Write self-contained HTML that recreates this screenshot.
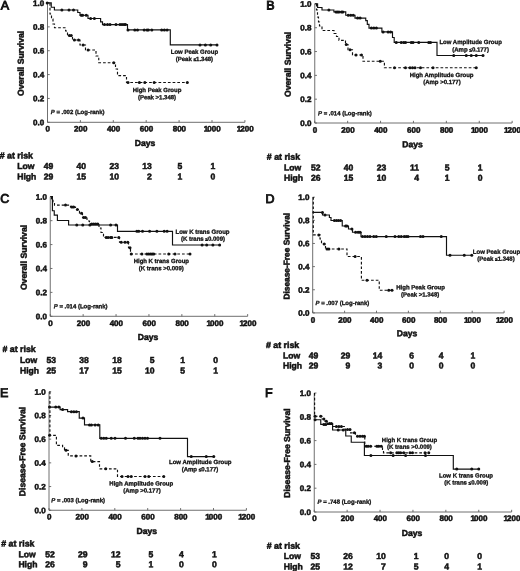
<!DOCTYPE html>
<html lang="en"><head><meta charset="utf-8"><title>Kaplan-Meier survival curves</title>
<style>html,body{margin:0;padding:0;background:#fff}svg{display:block}text{font-family:"Liberation Sans", sans-serif;font-weight:bold;fill:#111}text{stroke:#111;stroke-width:.5;paint-order:stroke}.t8{font-size:8.05px}.t85{font-size:8.6px}.t88{font-size:8.8px}.t6{font-size:6px;stroke-width:.3}.t12{font-size:12.5px;font-weight:normal;stroke-width:.9}.ax{stroke:#606060;stroke-width:.9;fill:none}.so{stroke:#111;stroke-width:1.15;fill:none;stroke-linejoin:miter}.da{stroke:#111;stroke-width:1.15;fill:none;stroke-dasharray:2.7 2}circle{fill:#111}</style></head><body>
<svg width="520" height="571" viewBox="0 0 520 571">
<rect width="520" height="571" fill="#fff"/>
<g>
<text class="t12" transform="rotate(0.03 0.8 9.4)" x="0.8" y="9.4">A</text>
<path class="ax" d="M47.5,3 V122.3 H244.9"/>
<path class="ax" d="M47.5,3 h2.2 M47.5,26.86 h2.2 M47.5,50.72 h2.2 M47.5,74.58 h2.2 M47.5,98.44 h2.2 M47.5,122.3 h2.2 M47.5,122.3 v-2.2 M80.4,122.3 v-2.2 M113.3,122.3 v-2.2 M146.2,122.3 v-2.2 M179.1,122.3 v-2.2 M212,122.3 v-2.2 M244.9,122.3 v-2.2"/>
<text class="t8" text-anchor="end" transform="rotate(0.03 44.3 5.9)" x="44.3" y="5.9">1.0</text>
<text class="t8" text-anchor="end" transform="rotate(0.03 44.3 29.76)" x="44.3" y="29.76">0.8</text>
<text class="t8" text-anchor="end" transform="rotate(0.03 44.3 53.62)" x="44.3" y="53.62">0.6</text>
<text class="t8" text-anchor="end" transform="rotate(0.03 44.3 77.48)" x="44.3" y="77.48">0.4</text>
<text class="t8" text-anchor="end" transform="rotate(0.03 44.3 101.34)" x="44.3" y="101.34">0.2</text>
<text class="t8" text-anchor="end" transform="rotate(0.03 44.3 125.2)" x="44.3" y="125.2">0.0</text>
<text class="t8" text-anchor="middle" transform="rotate(0.03 47.8 131.6)" x="47.8" y="131.6">0</text>
<text class="t8" text-anchor="middle" transform="rotate(0.03 80.7 131.6)" x="80.7" y="131.6">200</text>
<text class="t8" text-anchor="middle" transform="rotate(0.03 113.6 131.6)" x="113.6" y="131.6">400</text>
<text class="t8" text-anchor="middle" transform="rotate(0.03 146.5 131.6)" x="146.5" y="131.6">600</text>
<text class="t8" text-anchor="middle" transform="rotate(0.03 179.4 131.6)" x="179.4" y="131.6">800</text>
<text class="t8" text-anchor="middle" transform="rotate(0.03 212.3 131.6)" x="212.3" y="131.6"><tspan letter-spacing="-0.9">1</tspan>000</text>
<text class="t8" text-anchor="middle" transform="rotate(0.03 245.2 131.6)" x="245.2" y="131.6"><tspan letter-spacing="-0.9">1</tspan>200</text>
<text class="t88" style="font-size:8.65px" text-anchor="middle" transform="translate(23.8,63.4) rotate(-89.97)">Overall Survival</text>
<text class="t85" text-anchor="middle" transform="rotate(0.03 145 146)" x="145" y="146">Days</text>
<text class="t6" transform="rotate(0.03 50.75 114.1)" x="50.75" y="114.1"><tspan font-style="italic">P</tspan> = .002 (Log-rank)</text>
<g transform="translate(0,0)">
<path class="da" d="M50,3 V14 H51.5 V19 H53 V24 H54.5 V27.75 H65.6 V31 H67.5 V35.6 H72.5 V40 H80 V45 H85.5 V50 H96 V56 H98.75 V62.75 H115.5 V69 H117.5 V75.6 H126.5 V82.5 H187.3"/>
<path class="so" d="M47.5,2.9 H51.25 V7.25 H54.4 V10 H77.75 V12.5 H80 V15.25 H88 V18.5 H100.6 V21.9 H102.5 V24.6 H127.5 V29.9 H170.3 V44.9 H217"/>
<circle cx="47.2" cy="2.9" r="1.5"/>
<circle cx="61.9" cy="10" r="1.5"/>
<circle cx="69" cy="10" r="1.5"/>
<circle cx="73.5" cy="10" r="1.5"/>
<circle cx="81.25" cy="15.25" r="1.5"/>
<circle cx="82.6" cy="15.25" r="1.5"/>
<circle cx="86.25" cy="15.25" r="1.5"/>
<circle cx="90.6" cy="18.5" r="1.5"/>
<circle cx="94.4" cy="18.5" r="1.5"/>
<circle cx="104.5" cy="24.6" r="1.5"/>
<circle cx="107.5" cy="24.6" r="1.5"/>
<circle cx="110" cy="24.6" r="1.5"/>
<circle cx="116" cy="24.6" r="1.5"/>
<circle cx="120" cy="24.6" r="1.5"/>
<circle cx="122" cy="24.6" r="1.5"/>
<circle cx="124" cy="24.6" r="1.5"/>
<circle cx="125.5" cy="24.6" r="1.5"/>
<circle cx="128" cy="29.9" r="1.5"/>
<circle cx="134.8" cy="29.9" r="1.5"/>
<circle cx="137.5" cy="29.9" r="1.5"/>
<circle cx="144.2" cy="29.9" r="1.5"/>
<circle cx="147" cy="29.9" r="1.5"/>
<circle cx="148.3" cy="29.9" r="1.5"/>
<circle cx="151.8" cy="29.9" r="1.5"/>
<circle cx="161.7" cy="29.9" r="1.5"/>
<circle cx="164.4" cy="29.9" r="1.5"/>
<circle cx="167.1" cy="29.9" r="1.5"/>
<circle cx="200" cy="44.9" r="1.5"/>
<circle cx="205.4" cy="44.9" r="1.5"/>
<circle cx="210.7" cy="44.9" r="1.5"/>
<circle cx="217" cy="44.9" r="1.5"/>
<circle cx="69.4" cy="35.6" r="1.5"/>
<circle cx="71.25" cy="35.6" r="1.5"/>
<circle cx="74.4" cy="40" r="1.5"/>
<circle cx="78.5" cy="40" r="1.5"/>
<circle cx="83.1" cy="45" r="1.5"/>
<circle cx="88.1" cy="50" r="1.5"/>
<circle cx="113.75" cy="62.75" r="1.5"/>
<circle cx="128" cy="82.5" r="1.5"/>
<circle cx="139.4" cy="82.5" r="1.5"/>
<circle cx="144.8" cy="82.5" r="1.5"/>
<circle cx="154.2" cy="82.5" r="1.5"/>
<circle cx="187.3" cy="82.5" r="1.5"/>
</g>
<text class="t6" text-anchor="middle" transform="rotate(0.03 194.4 53.8)" x="194.4" y="53.8">Low Peak Group</text>
<text class="t6" text-anchor="middle" transform="rotate(0.03 194.4 60.9)" x="194.4" y="60.9">(Peak <tspan font-size="4.8">≤</tspan>1.348)</text>
<text class="t6" text-anchor="middle" transform="rotate(0.03 157 92)" x="157" y="92">High Peak Group</text>
<text class="t6" text-anchor="middle" transform="rotate(0.03 157 99.2)" x="157" y="99.2">(Peak >1.348)</text>
<text class="t88" transform="rotate(0.03 -0.3 158.6)" x="-0.3" y="158.6"># at risk</text>
<text class="t85" transform="rotate(0.03 17.2 169)" x="17.2" y="169">Low</text>
<text class="t85" transform="rotate(0.03 17.2 179.5)" x="17.2" y="179.5">High</text>
<text class="t85" text-anchor="end" transform="rotate(0.03 53.2 169)" x="53.2" y="169">49</text>
<text class="t85" text-anchor="end" transform="rotate(0.03 86.1 169)" x="86.1" y="169">40</text>
<text class="t85" text-anchor="end" transform="rotate(0.03 119 169)" x="119" y="169">23</text>
<text class="t85" text-anchor="end" transform="rotate(0.03 151.9 169)" x="151.9" y="169">13</text>
<text class="t85" text-anchor="end" transform="rotate(0.03 182.3 169)" x="182.3" y="169">5</text>
<text class="t85" text-anchor="end" transform="rotate(0.03 215.2 169)" x="215.2" y="169">1</text>
<text class="t85" text-anchor="end" transform="rotate(0.03 53.2 179.5)" x="53.2" y="179.5">29</text>
<text class="t85" text-anchor="end" transform="rotate(0.03 86.1 179.5)" x="86.1" y="179.5">15</text>
<text class="t85" text-anchor="end" transform="rotate(0.03 119 179.5)" x="119" y="179.5">10</text>
<text class="t85" text-anchor="end" transform="rotate(0.03 151.9 179.5)" x="151.9" y="179.5">2</text>
<text class="t85" text-anchor="end" transform="rotate(0.03 182.3 179.5)" x="182.3" y="179.5">1</text>
<text class="t85" text-anchor="end" transform="rotate(0.03 215.2 179.5)" x="215.2" y="179.5">0</text>
</g>
<g>
<text class="t12" transform="rotate(0.03 266.3 9.5)" x="266.3" y="9.5">B</text>
<path class="ax" d="M314.75,3.9 V123 H512.15"/>
<path class="ax" d="M314.75,3.9 h2.2 M314.75,27.72 h2.2 M314.75,51.54 h2.2 M314.75,75.36 h2.2 M314.75,99.18 h2.2 M314.75,123 h2.2 M314.75,123 v-2.2 M347.65,123 v-2.2 M380.55,123 v-2.2 M413.45,123 v-2.2 M446.35,123 v-2.2 M479.25,123 v-2.2 M512.15,123 v-2.2"/>
<text class="t8" text-anchor="end" transform="rotate(0.03 311.55 6.8)" x="311.55" y="6.8">1.0</text>
<text class="t8" text-anchor="end" transform="rotate(0.03 311.55 30.62)" x="311.55" y="30.62">0.8</text>
<text class="t8" text-anchor="end" transform="rotate(0.03 311.55 54.44)" x="311.55" y="54.44">0.6</text>
<text class="t8" text-anchor="end" transform="rotate(0.03 311.55 78.26)" x="311.55" y="78.26">0.4</text>
<text class="t8" text-anchor="end" transform="rotate(0.03 311.55 102.08)" x="311.55" y="102.08">0.2</text>
<text class="t8" text-anchor="end" transform="rotate(0.03 311.55 125.9)" x="311.55" y="125.9">0.0</text>
<text class="t8" text-anchor="middle" transform="rotate(0.03 315.05 132.8)" x="315.05" y="132.8">0</text>
<text class="t8" text-anchor="middle" transform="rotate(0.03 347.95 132.8)" x="347.95" y="132.8">200</text>
<text class="t8" text-anchor="middle" transform="rotate(0.03 380.85 132.8)" x="380.85" y="132.8">400</text>
<text class="t8" text-anchor="middle" transform="rotate(0.03 413.75 132.8)" x="413.75" y="132.8">600</text>
<text class="t8" text-anchor="middle" transform="rotate(0.03 446.65 132.8)" x="446.65" y="132.8">800</text>
<text class="t8" text-anchor="middle" transform="rotate(0.03 479.55 132.8)" x="479.55" y="132.8"><tspan letter-spacing="-0.9">1</tspan>000</text>
<text class="t8" text-anchor="middle" transform="rotate(0.03 512.45 132.8)" x="512.45" y="132.8"><tspan letter-spacing="-0.9">1</tspan>200</text>
<text class="t88" style="font-size:8.65px" text-anchor="middle" transform="translate(290.8,64.4) rotate(-89.97)">Overall Survival</text>
<text class="t85" text-anchor="middle" transform="rotate(0.03 412.5 147.2)" x="412.5" y="147.2">Days</text>
<text class="t6" transform="rotate(0.03 318 115.3)" x="318" y="115.3"><tspan font-style="italic">P</tspan> = .014 (Log-rank)</text>
<g transform="translate(0,0)">
<path class="da" d="M316.5,3.75 V10 H317.5 V17 H318.5 V22 H319.5 V26 H322 V30.5 H334 V33.5 H336.5 V36.5 H339 V40.3 H345.5 V44.5 H348 V49.75 H352.5 V55 H363 V61.25 H384.4 V67.75 H476.25"/>
<path class="so" d="M314.75,3.75 H317.6 V7.5 H322 V10 H333.9 V11.9 H345.75 V15.25 H355 V18.1 H365.75 V20.6 H367.3 V24.4 H369 V28.1 H381.9 V31.9 H392.5 V37.5 H394.2 V42.4 H437 V55.5 H483"/>
<circle cx="328.9" cy="10" r="1.5"/>
<circle cx="336" cy="11.9" r="1.5"/>
<circle cx="337.5" cy="11.9" r="1.5"/>
<circle cx="339" cy="11.9" r="1.5"/>
<circle cx="341.5" cy="11.9" r="1.5"/>
<circle cx="342.8" cy="11.9" r="1.5"/>
<circle cx="348.25" cy="15.25" r="1.5"/>
<circle cx="350.75" cy="15.25" r="1.5"/>
<circle cx="353.25" cy="15.25" r="1.5"/>
<circle cx="357.6" cy="18.1" r="1.5"/>
<circle cx="360.1" cy="18.1" r="1.5"/>
<circle cx="371.4" cy="28.1" r="1.5"/>
<circle cx="373.9" cy="28.1" r="1.5"/>
<circle cx="376.4" cy="28.1" r="1.5"/>
<circle cx="383.1" cy="31.9" r="1.5"/>
<circle cx="388.1" cy="31.9" r="1.5"/>
<circle cx="390.6" cy="31.9" r="1.5"/>
<circle cx="396.25" cy="42.4" r="1.5"/>
<circle cx="401.25" cy="42.4" r="1.5"/>
<circle cx="403.75" cy="42.4" r="1.5"/>
<circle cx="405.5" cy="42.4" r="1.5"/>
<circle cx="411.25" cy="42.4" r="1.5"/>
<circle cx="413" cy="42.4" r="1.5"/>
<circle cx="418.75" cy="42.4" r="1.5"/>
<circle cx="428.75" cy="42.4" r="1.5"/>
<circle cx="430.5" cy="42.4" r="1.5"/>
<circle cx="453.75" cy="55.5" r="1.5"/>
<circle cx="466.25" cy="55.5" r="1.5"/>
<circle cx="471.25" cy="55.5" r="1.5"/>
<circle cx="476.25" cy="55.5" r="1.5"/>
<circle cx="483" cy="55.5" r="1.5"/>
<circle cx="346.25" cy="44.5" r="1.5"/>
<circle cx="350" cy="49.75" r="1.5"/>
<circle cx="356" cy="55" r="1.5"/>
<circle cx="361.5" cy="55" r="1.5"/>
<circle cx="380.25" cy="61.25" r="1.5"/>
<circle cx="394.5" cy="67.75" r="1.5"/>
<circle cx="405.5" cy="67.75" r="1.5"/>
<circle cx="410" cy="67.75" r="1.5"/>
<circle cx="412.5" cy="67.75" r="1.5"/>
<circle cx="415" cy="67.75" r="1.5"/>
<circle cx="420.5" cy="67.75" r="1.5"/>
<circle cx="433" cy="67.75" r="1.5"/>
<circle cx="476.25" cy="67.75" r="1.5"/>
</g>
<text class="t6" text-anchor="middle" transform="rotate(0.03 470.6 44.1)" x="470.6" y="44.1">Low Amplitude Group</text>
<text class="t6" text-anchor="middle" transform="rotate(0.03 470.6 51.6)" x="470.6" y="51.6">(Amp <tspan font-size="4.8">≤</tspan>0.177)</text>
<text class="t6" text-anchor="middle" transform="rotate(0.03 441.6 77)" x="441.6" y="77">High Amplitude Group</text>
<text class="t6" text-anchor="middle" transform="rotate(0.03 441.9 84)" x="441.9" y="84">(Amp >0.177)</text>
<text class="t88" transform="rotate(0.03 266.8 159.7)" x="266.8" y="159.7"># at risk</text>
<text class="t85" transform="rotate(0.03 284 170.6)" x="284" y="170.6">Low</text>
<text class="t85" transform="rotate(0.03 284 180.7)" x="284" y="180.7">High</text>
<text class="t85" text-anchor="end" transform="rotate(0.03 320.45 170.6)" x="320.45" y="170.6">52</text>
<text class="t85" text-anchor="end" transform="rotate(0.03 353.35 170.6)" x="353.35" y="170.6">40</text>
<text class="t85" text-anchor="end" transform="rotate(0.03 386.25 170.6)" x="386.25" y="170.6">23</text>
<text class="t85" text-anchor="end" transform="rotate(0.03 419.15 170.6)" x="419.15" y="170.6">11</text>
<text class="t85" text-anchor="end" transform="rotate(0.03 449.55 170.6)" x="449.55" y="170.6">5</text>
<text class="t85" text-anchor="end" transform="rotate(0.03 482.45 170.6)" x="482.45" y="170.6">1</text>
<text class="t85" text-anchor="end" transform="rotate(0.03 320.45 180.7)" x="320.45" y="180.7">26</text>
<text class="t85" text-anchor="end" transform="rotate(0.03 353.35 180.7)" x="353.35" y="180.7">15</text>
<text class="t85" text-anchor="end" transform="rotate(0.03 386.25 180.7)" x="386.25" y="180.7">10</text>
<text class="t85" text-anchor="end" transform="rotate(0.03 419.15 180.7)" x="419.15" y="180.7">4</text>
<text class="t85" text-anchor="end" transform="rotate(0.03 449.55 180.7)" x="449.55" y="180.7">1</text>
<text class="t85" text-anchor="end" transform="rotate(0.03 482.45 180.7)" x="482.45" y="180.7">0</text>
</g>
<g>
<text class="t12" transform="rotate(0.03 0.3 202.8)" x="0.3" y="202.8">C</text>
<path class="ax" d="M50.25,196.75 V316.3 H247.65"/>
<path class="ax" d="M50.25,196.75 h2.2 M50.25,220.66 h2.2 M50.25,244.57 h2.2 M50.25,268.48 h2.2 M50.25,292.39 h2.2 M50.25,316.3 h2.2 M50.25,316.3 v-2.2 M83.15,316.3 v-2.2 M116.05,316.3 v-2.2 M148.95,316.3 v-2.2 M181.85,316.3 v-2.2 M214.75,316.3 v-2.2 M247.65,316.3 v-2.2"/>
<text class="t8" text-anchor="end" transform="rotate(0.03 47.05 199.65)" x="47.05" y="199.65">1.0</text>
<text class="t8" text-anchor="end" transform="rotate(0.03 47.05 223.56)" x="47.05" y="223.56">0.8</text>
<text class="t8" text-anchor="end" transform="rotate(0.03 47.05 247.47)" x="47.05" y="247.47">0.6</text>
<text class="t8" text-anchor="end" transform="rotate(0.03 47.05 271.38)" x="47.05" y="271.38">0.4</text>
<text class="t8" text-anchor="end" transform="rotate(0.03 47.05 295.29)" x="47.05" y="295.29">0.2</text>
<text class="t8" text-anchor="end" transform="rotate(0.03 47.05 319.2)" x="47.05" y="319.2">0.0</text>
<text class="t8" text-anchor="middle" transform="rotate(0.03 50.55 326)" x="50.55" y="326">0</text>
<text class="t8" text-anchor="middle" transform="rotate(0.03 83.45 326)" x="83.45" y="326">200</text>
<text class="t8" text-anchor="middle" transform="rotate(0.03 116.35 326)" x="116.35" y="326">400</text>
<text class="t8" text-anchor="middle" transform="rotate(0.03 149.25 326)" x="149.25" y="326">600</text>
<text class="t8" text-anchor="middle" transform="rotate(0.03 182.15 326)" x="182.15" y="326">800</text>
<text class="t8" text-anchor="middle" transform="rotate(0.03 215.05 326)" x="215.05" y="326"><tspan letter-spacing="-0.9">1</tspan>000</text>
<text class="t8" text-anchor="middle" transform="rotate(0.03 247.95 326)" x="247.95" y="326"><tspan letter-spacing="-0.9">1</tspan>200</text>
<text class="t88" style="font-size:8.65px" text-anchor="middle" transform="translate(26.7,257.5) rotate(-89.97)">Overall Survival</text>
<text class="t85" text-anchor="middle" transform="rotate(0.03 148 340.1)" x="148" y="340.1">Days</text>
<text class="t6" transform="rotate(0.03 53.75 308.3)" x="53.75" y="308.3"><tspan font-style="italic">P</tspan> = .014 (Log-rank)</text>
<g transform="translate(0,0)">
<path class="da" d="M51.5,196.5 V199 H53 V202 H54.5 V205.1 H70.5 V207 H75.5 V209.5 H79.5 V213.25 H82.5 V217.4 H87 V221 H89.5 V223.9 H99 V228 H101 V232.5 H103.5 V237.4 H119.5 V242.25 H128.5 V247.75 H130.5 V254 H190"/>
<path class="so" d="M50.25,196.5 H52.4 V210.75 H54.25 V215.1 H57.4 V220.5 H68.6 V225 H117.5 V231.3 H172.5 V245 H219.6"/>
<circle cx="76.75" cy="225" r="1.5"/>
<circle cx="82.75" cy="225" r="1.5"/>
<circle cx="89.9" cy="225" r="1.5"/>
<circle cx="110.6" cy="225" r="1.5"/>
<circle cx="116" cy="225" r="1.5"/>
<circle cx="136.9" cy="231.3" r="1.5"/>
<circle cx="138.75" cy="231.3" r="1.5"/>
<circle cx="142.5" cy="231.3" r="1.5"/>
<circle cx="149.6" cy="231.3" r="1.5"/>
<circle cx="156.9" cy="231.3" r="1.5"/>
<circle cx="164.2" cy="231.3" r="1.5"/>
<circle cx="167.1" cy="231.3" r="1.5"/>
<circle cx="202.1" cy="245" r="1.5"/>
<circle cx="206.7" cy="245" r="1.5"/>
<circle cx="212.9" cy="245" r="1.5"/>
<circle cx="219.6" cy="245" r="1.5"/>
<circle cx="65.5" cy="205.1" r="1.5"/>
<circle cx="71.75" cy="207" r="1.5"/>
<circle cx="73.6" cy="207" r="1.5"/>
<circle cx="77.4" cy="209.5" r="1.5"/>
<circle cx="81.5" cy="213.25" r="1.5"/>
<circle cx="83.6" cy="217.4" r="1.5"/>
<circle cx="85.5" cy="217.4" r="1.5"/>
<circle cx="91.75" cy="223.9" r="1.5"/>
<circle cx="93.75" cy="223.9" r="1.5"/>
<circle cx="95.75" cy="223.9" r="1.5"/>
<circle cx="97.75" cy="223.9" r="1.5"/>
<circle cx="106.25" cy="237.4" r="1.5"/>
<circle cx="108.1" cy="237.4" r="1.5"/>
<circle cx="110.6" cy="237.4" r="1.5"/>
<circle cx="111.9" cy="237.4" r="1.5"/>
<circle cx="118.75" cy="237.4" r="1.5"/>
<circle cx="121.25" cy="242.25" r="1.5"/>
<circle cx="125" cy="242.25" r="1.5"/>
<circle cx="127.75" cy="242.25" r="1.5"/>
<circle cx="130" cy="247.75" r="1.5"/>
<circle cx="131.25" cy="254" r="1.5"/>
<circle cx="141.9" cy="254" r="1.5"/>
<circle cx="146.9" cy="254" r="1.5"/>
<circle cx="148.75" cy="254" r="1.5"/>
<circle cx="150.6" cy="254" r="1.5"/>
<circle cx="152.2" cy="254" r="1.5"/>
<circle cx="153.75" cy="254" r="1.5"/>
<circle cx="168.75" cy="254" r="1.5"/>
<circle cx="175" cy="254" r="1.5"/>
<circle cx="190" cy="254" r="1.5"/>
</g>
<text class="t6" text-anchor="middle" transform="rotate(0.03 202.5 233.7)" x="202.5" y="233.7">Low K trans Group</text>
<text class="t6" text-anchor="middle" transform="rotate(0.03 203 240.7)" x="203" y="240.7">(K trans <tspan font-size="4.8">≤</tspan>0.009)</text>
<text class="t6" text-anchor="middle" transform="rotate(0.03 161.3 262.9)" x="161.3" y="262.9">High K trans Group</text>
<text class="t6" text-anchor="middle" transform="rotate(0.03 161.3 270.2)" x="161.3" y="270.2">(K trans >0.009)</text>
<text class="t88" transform="rotate(0.03 2.5 352.1)" x="2.5" y="352.1"># at risk</text>
<text class="t85" transform="rotate(0.03 20 363)" x="20" y="363">Low</text>
<text class="t85" transform="rotate(0.03 20 373.5)" x="20" y="373.5">High</text>
<text class="t85" text-anchor="end" transform="rotate(0.03 55.95 363)" x="55.95" y="363">53</text>
<text class="t85" text-anchor="end" transform="rotate(0.03 88.85 363)" x="88.85" y="363">38</text>
<text class="t85" text-anchor="end" transform="rotate(0.03 121.75 363)" x="121.75" y="363">18</text>
<text class="t85" text-anchor="end" transform="rotate(0.03 154.65 363)" x="154.65" y="363">5</text>
<text class="t85" text-anchor="end" transform="rotate(0.03 185.05 363)" x="185.05" y="363">1</text>
<text class="t85" text-anchor="end" transform="rotate(0.03 217.95 363)" x="217.95" y="363">0</text>
<text class="t85" text-anchor="end" transform="rotate(0.03 55.95 373.5)" x="55.95" y="373.5">25</text>
<text class="t85" text-anchor="end" transform="rotate(0.03 88.85 373.5)" x="88.85" y="373.5">17</text>
<text class="t85" text-anchor="end" transform="rotate(0.03 121.75 373.5)" x="121.75" y="373.5">15</text>
<text class="t85" text-anchor="end" transform="rotate(0.03 154.65 373.5)" x="154.65" y="373.5">10</text>
<text class="t85" text-anchor="end" transform="rotate(0.03 185.05 373.5)" x="185.05" y="373.5">5</text>
<text class="t85" text-anchor="end" transform="rotate(0.03 217.95 373.5)" x="217.95" y="373.5">1</text>
</g>
<g>
<text class="t12" transform="rotate(0.03 265.5 203)" x="265.5" y="203">D</text>
<path class="ax" d="M312.7,197.2 V312.9 H504.1"/>
<path class="ax" d="M312.7,197.2 h2.2 M312.7,220.34 h2.2 M312.7,243.48 h2.2 M312.7,266.62 h2.2 M312.7,289.76 h2.2 M312.7,312.9 h2.2 M312.7,312.9 v-2.2 M344.6,312.9 v-2.2 M376.5,312.9 v-2.2 M408.4,312.9 v-2.2 M440.3,312.9 v-2.2 M472.2,312.9 v-2.2 M504.1,312.9 v-2.2"/>
<text class="t8" text-anchor="end" transform="rotate(0.03 309.5 200.1)" x="309.5" y="200.1">1.0</text>
<text class="t8" text-anchor="end" transform="rotate(0.03 309.5 223.24)" x="309.5" y="223.24">0.8</text>
<text class="t8" text-anchor="end" transform="rotate(0.03 309.5 246.38)" x="309.5" y="246.38">0.6</text>
<text class="t8" text-anchor="end" transform="rotate(0.03 309.5 269.52)" x="309.5" y="269.52">0.4</text>
<text class="t8" text-anchor="end" transform="rotate(0.03 309.5 292.66)" x="309.5" y="292.66">0.2</text>
<text class="t8" text-anchor="end" transform="rotate(0.03 309.5 315.8)" x="309.5" y="315.8">0.0</text>
<text class="t8" text-anchor="middle" transform="rotate(0.03 313 322.8)" x="313" y="322.8">0</text>
<text class="t8" text-anchor="middle" transform="rotate(0.03 344.9 322.8)" x="344.9" y="322.8">200</text>
<text class="t8" text-anchor="middle" transform="rotate(0.03 376.8 322.8)" x="376.8" y="322.8">400</text>
<text class="t8" text-anchor="middle" transform="rotate(0.03 408.7 322.8)" x="408.7" y="322.8">600</text>
<text class="t8" text-anchor="middle" transform="rotate(0.03 440.6 322.8)" x="440.6" y="322.8">800</text>
<text class="t8" text-anchor="middle" transform="rotate(0.03 472.5 322.8)" x="472.5" y="322.8"><tspan letter-spacing="-0.9">1</tspan>000</text>
<text class="t8" text-anchor="middle" transform="rotate(0.03 504.4 322.8)" x="504.4" y="322.8"><tspan letter-spacing="-0.9">1</tspan>200</text>
<text class="t88" style="font-size:8.35px" text-anchor="middle" transform="translate(289.4,256.2) rotate(-89.97)">Disease-Free Survival</text>
<text class="t85" text-anchor="middle" transform="rotate(0.03 407 336.2)" x="407" y="336.2">Days</text>
<text class="t6" transform="rotate(0.03 315.5 305)" x="315.5" y="305"><tspan font-style="italic">P</tspan> = .007 (Log-rank)</text>
<g transform="translate(0,0)">
<path class="da" d="M313.3,197 V234.9 H320 V239 H321.5 V244 H325.5 V249 H347 V256.5 H361.4 V280.25 H379.25 V290.25 H392.5"/>
<path class="so" d="M312.5,212.4 H322.5 V215 H329.4 V217.5 H331 V220.5 H342.25 V226 H348.5 V229 H352.5 V232.25 H361 V236.6 H446.5 V255.25 H471.75"/>
<circle cx="322.5" cy="212.4" r="1.5"/>
<circle cx="325" cy="215" r="1.5"/>
<circle cx="334.4" cy="220.5" r="1.5"/>
<circle cx="336.5" cy="220.5" r="1.5"/>
<circle cx="338.5" cy="220.5" r="1.5"/>
<circle cx="340.6" cy="220.5" r="1.5"/>
<circle cx="345.6" cy="226" r="1.5"/>
<circle cx="346.9" cy="226" r="1.5"/>
<circle cx="351.9" cy="229" r="1.5"/>
<circle cx="355.6" cy="232.25" r="1.5"/>
<circle cx="358.1" cy="232.25" r="1.5"/>
<circle cx="360" cy="232.25" r="1.5"/>
<circle cx="362.5" cy="236.6" r="1.5"/>
<circle cx="365" cy="236.6" r="1.5"/>
<circle cx="367.5" cy="236.6" r="1.5"/>
<circle cx="370" cy="236.6" r="1.5"/>
<circle cx="373.75" cy="236.6" r="1.5"/>
<circle cx="376.25" cy="236.6" r="1.5"/>
<circle cx="386.25" cy="236.6" r="1.5"/>
<circle cx="395" cy="236.6" r="1.5"/>
<circle cx="398.75" cy="236.6" r="1.5"/>
<circle cx="401.25" cy="236.6" r="1.5"/>
<circle cx="404.25" cy="236.6" r="1.5"/>
<circle cx="406.25" cy="236.6" r="1.5"/>
<circle cx="408" cy="236.6" r="1.5"/>
<circle cx="420.5" cy="236.6" r="1.5"/>
<circle cx="423" cy="236.6" r="1.5"/>
<circle cx="441.25" cy="236.6" r="1.5"/>
<circle cx="450" cy="255.25" r="1.5"/>
<circle cx="464.25" cy="255.25" r="1.5"/>
<circle cx="471.75" cy="255.25" r="1.5"/>
<circle cx="318.9" cy="234.9" r="1.5"/>
<circle cx="324.25" cy="244" r="1.5"/>
<circle cx="327" cy="249" r="1.5"/>
<circle cx="328.9" cy="249" r="1.5"/>
<circle cx="338.9" cy="249" r="1.5"/>
<circle cx="355.1" cy="256.5" r="1.5"/>
<circle cx="367" cy="280.25" r="1.5"/>
<circle cx="388.75" cy="290.25" r="1.5"/>
<circle cx="392" cy="290.25" r="1.5"/>
</g>
<text class="t6" text-anchor="middle" transform="rotate(0.03 496.5 253.75)" x="496.5" y="253.75">Low Peak Group</text>
<text class="t6" text-anchor="middle" transform="rotate(0.03 496 260.75)" x="496" y="260.75">(Peak <tspan font-size="4.8">≤</tspan>1.348)</text>
<text class="t6" text-anchor="middle" transform="rotate(0.03 420.6 289.2)" x="420.6" y="289.2">High Peak Group</text>
<text class="t6" text-anchor="middle" transform="rotate(0.03 420.2 296.6)" x="420.2" y="296.6">(Peak >1.348)</text>
<text class="t88" transform="rotate(0.03 266 348)" x="266" y="348"># at risk</text>
<text class="t85" transform="rotate(0.03 283 358.6)" x="283" y="358.6">Low</text>
<text class="t85" transform="rotate(0.03 283 368.4)" x="283" y="368.4">High</text>
<text class="t85" text-anchor="end" transform="rotate(0.03 318.4 358.6)" x="318.4" y="358.6">49</text>
<text class="t85" text-anchor="end" transform="rotate(0.03 350.3 358.6)" x="350.3" y="358.6">29</text>
<text class="t85" text-anchor="end" transform="rotate(0.03 382.2 358.6)" x="382.2" y="358.6">14</text>
<text class="t85" text-anchor="end" transform="rotate(0.03 414.1 358.6)" x="414.1" y="358.6">6</text>
<text class="t85" text-anchor="end" transform="rotate(0.03 443.5 358.6)" x="443.5" y="358.6">4</text>
<text class="t85" text-anchor="end" transform="rotate(0.03 475.4 358.6)" x="475.4" y="358.6">1</text>
<text class="t85" text-anchor="end" transform="rotate(0.03 318.4 368.4)" x="318.4" y="368.4">29</text>
<text class="t85" text-anchor="end" transform="rotate(0.03 350.3 368.4)" x="350.3" y="368.4">9</text>
<text class="t85" text-anchor="end" transform="rotate(0.03 382.2 368.4)" x="382.2" y="368.4">3</text>
<text class="t85" text-anchor="end" transform="rotate(0.03 414.1 368.4)" x="414.1" y="368.4">0</text>
<text class="t85" text-anchor="end" transform="rotate(0.03 443.5 368.4)" x="443.5" y="368.4">0</text>
<text class="t85" text-anchor="end" transform="rotate(0.03 475.4 368.4)" x="475.4" y="368.4">0</text>
</g>
<g>
<text class="t12" transform="rotate(0.03 0 397)" x="0" y="397">E</text>
<path class="ax" d="M49,391.75 V510.25 H246.4"/>
<path class="ax" d="M49,391.75 h2.2 M49,415.45 h2.2 M49,439.15 h2.2 M49,462.85 h2.2 M49,486.55 h2.2 M49,510.25 h2.2 M49,510.25 v-2.2 M81.9,510.25 v-2.2 M114.8,510.25 v-2.2 M147.7,510.25 v-2.2 M180.6,510.25 v-2.2 M213.5,510.25 v-2.2 M246.4,510.25 v-2.2"/>
<text class="t8" text-anchor="end" transform="rotate(0.03 45.8 394.65)" x="45.8" y="394.65">1.0</text>
<text class="t8" text-anchor="end" transform="rotate(0.03 45.8 418.35)" x="45.8" y="418.35">0.8</text>
<text class="t8" text-anchor="end" transform="rotate(0.03 45.8 442.05)" x="45.8" y="442.05">0.6</text>
<text class="t8" text-anchor="end" transform="rotate(0.03 45.8 465.75)" x="45.8" y="465.75">0.4</text>
<text class="t8" text-anchor="end" transform="rotate(0.03 45.8 489.45)" x="45.8" y="489.45">0.2</text>
<text class="t8" text-anchor="end" transform="rotate(0.03 45.8 513.15)" x="45.8" y="513.15">0.0</text>
<text class="t8" text-anchor="middle" transform="rotate(0.03 49.3 519.5)" x="49.3" y="519.5">0</text>
<text class="t8" text-anchor="middle" transform="rotate(0.03 82.2 519.5)" x="82.2" y="519.5">200</text>
<text class="t8" text-anchor="middle" transform="rotate(0.03 115.1 519.5)" x="115.1" y="519.5">400</text>
<text class="t8" text-anchor="middle" transform="rotate(0.03 148 519.5)" x="148" y="519.5">600</text>
<text class="t8" text-anchor="middle" transform="rotate(0.03 180.9 519.5)" x="180.9" y="519.5">800</text>
<text class="t8" text-anchor="middle" transform="rotate(0.03 213.8 519.5)" x="213.8" y="519.5"><tspan letter-spacing="-0.9">1</tspan>000</text>
<text class="t8" text-anchor="middle" transform="rotate(0.03 246.7 519.5)" x="246.7" y="519.5"><tspan letter-spacing="-0.9">1</tspan>200</text>
<text class="t88" style="font-size:8.6px" text-anchor="middle" transform="translate(25.2,451.5) rotate(-89.97)">Disease-Free Survival</text>
<text class="t85" text-anchor="middle" transform="rotate(0.03 146.75 534)" x="146.75" y="534">Days</text>
<text class="t6" transform="rotate(0.03 51.25 502.25)" x="51.25" y="502.25"><tspan font-style="italic">P</tspan> = .003 (Log-rank)</text>
<g transform="translate(0,0.3)">
<path class="da" d="M49.9,391.25 V435 H56.4 V445 H62.6 V447.5 H64.5 V450 H68.25 V455.6 H90.75 V461.25 H99.5 V468.5 H117.5 V476.2 H163.75"/>
<path class="so" d="M49,406.75 H60.1 V409.25 H67.6 V411.4 H79.25 V417.75 H84.5 V424.6 H99.8 V438 H187.5 V456.25 H213.75"/>
<circle cx="49.5" cy="406.75" r="1.5"/>
<circle cx="55.75" cy="406.75" r="1.5"/>
<circle cx="58.9" cy="406.75" r="1.5"/>
<circle cx="62.6" cy="409.25" r="1.5"/>
<circle cx="71.4" cy="411.4" r="1.5"/>
<circle cx="73.9" cy="411.4" r="1.5"/>
<circle cx="76.4" cy="411.4" r="1.5"/>
<circle cx="83" cy="417.75" r="1.5"/>
<circle cx="89.5" cy="424.6" r="1.5"/>
<circle cx="91.4" cy="424.6" r="1.5"/>
<circle cx="95.1" cy="424.6" r="1.5"/>
<circle cx="98.25" cy="424.6" r="1.5"/>
<circle cx="101.25" cy="438" r="1.5"/>
<circle cx="103.75" cy="438" r="1.5"/>
<circle cx="106.25" cy="438" r="1.5"/>
<circle cx="111.25" cy="438" r="1.5"/>
<circle cx="115" cy="438" r="1.5"/>
<circle cx="125.5" cy="438" r="1.5"/>
<circle cx="134.25" cy="438" r="1.5"/>
<circle cx="138" cy="438" r="1.5"/>
<circle cx="140" cy="438" r="1.5"/>
<circle cx="142.5" cy="438" r="1.5"/>
<circle cx="145" cy="438" r="1.5"/>
<circle cx="147.5" cy="438" r="1.5"/>
<circle cx="160" cy="438" r="1.5"/>
<circle cx="191.25" cy="456.25" r="1.5"/>
<circle cx="206.25" cy="456.25" r="1.5"/>
<circle cx="213.75" cy="456.25" r="1.5"/>
<circle cx="49.6" cy="435" r="1.5"/>
<circle cx="66" cy="450" r="1.5"/>
<circle cx="76" cy="455.6" r="1.5"/>
<circle cx="92.25" cy="461.25" r="1.5"/>
<circle cx="105.75" cy="468.5" r="1.5"/>
<circle cx="122" cy="476.2" r="1.5"/>
<circle cx="128" cy="476.2" r="1.5"/>
<circle cx="131.25" cy="476.2" r="1.5"/>
<circle cx="145" cy="476.2" r="1.5"/>
<circle cx="148.75" cy="476.2" r="1.5"/>
<circle cx="163.75" cy="476.2" r="1.5"/>
</g>
<text class="t6" text-anchor="middle" transform="rotate(0.03 200.25 464)" x="200.25" y="464">Low Amplitude Group</text>
<text class="t6" text-anchor="middle" transform="rotate(0.03 200 471.25)" x="200" y="471.25">(Amp <tspan font-size="4.8">≤</tspan>0.177)</text>
<text class="t6" text-anchor="middle" transform="rotate(0.03 141.25 485.4)" x="141.25" y="485.4">High Amplitude Group</text>
<text class="t6" text-anchor="middle" transform="rotate(0.03 142 492.4)" x="142" y="492.4">(Amp >0.177)</text>
<text class="t88" transform="rotate(0.03 1.2 546.5)" x="1.2" y="546.5"># at risk</text>
<text class="t85" transform="rotate(0.03 18.4 557.2)" x="18.4" y="557.2">Low</text>
<text class="t85" transform="rotate(0.03 18.4 567.2)" x="18.4" y="567.2">High</text>
<text class="t85" text-anchor="end" transform="rotate(0.03 54.7 557.2)" x="54.7" y="557.2">52</text>
<text class="t85" text-anchor="end" transform="rotate(0.03 87.6 557.2)" x="87.6" y="557.2">29</text>
<text class="t85" text-anchor="end" transform="rotate(0.03 120.5 557.2)" x="120.5" y="557.2">12</text>
<text class="t85" text-anchor="end" transform="rotate(0.03 153.4 557.2)" x="153.4" y="557.2">5</text>
<text class="t85" text-anchor="end" transform="rotate(0.03 183.8 557.2)" x="183.8" y="557.2">4</text>
<text class="t85" text-anchor="end" transform="rotate(0.03 216.7 557.2)" x="216.7" y="557.2">1</text>
<text class="t85" text-anchor="end" transform="rotate(0.03 54.7 567.2)" x="54.7" y="567.2">26</text>
<text class="t85" text-anchor="end" transform="rotate(0.03 87.6 567.2)" x="87.6" y="567.2">9</text>
<text class="t85" text-anchor="end" transform="rotate(0.03 120.5 567.2)" x="120.5" y="567.2">5</text>
<text class="t85" text-anchor="end" transform="rotate(0.03 153.4 567.2)" x="153.4" y="567.2">1</text>
<text class="t85" text-anchor="end" transform="rotate(0.03 183.8 567.2)" x="183.8" y="567.2">0</text>
<text class="t85" text-anchor="end" transform="rotate(0.03 216.7 567.2)" x="216.7" y="567.2">0</text>
</g>
<g>
<text class="t12" transform="rotate(0.03 265 397)" x="265" y="397">F</text>
<path class="ax" d="M314.25,393 V512 H511.65"/>
<path class="ax" d="M314.25,393 h2.2 M314.25,416.8 h2.2 M314.25,440.6 h2.2 M314.25,464.4 h2.2 M314.25,488.2 h2.2 M314.25,512 h2.2 M314.25,512 v-2.2 M347.15,512 v-2.2 M380.05,512 v-2.2 M412.95,512 v-2.2 M445.85,512 v-2.2 M478.75,512 v-2.2 M511.65,512 v-2.2"/>
<text class="t8" text-anchor="end" transform="rotate(0.03 311.05 395.9)" x="311.05" y="395.9">1.0</text>
<text class="t8" text-anchor="end" transform="rotate(0.03 311.05 419.7)" x="311.05" y="419.7">0.8</text>
<text class="t8" text-anchor="end" transform="rotate(0.03 311.05 443.5)" x="311.05" y="443.5">0.6</text>
<text class="t8" text-anchor="end" transform="rotate(0.03 311.05 467.3)" x="311.05" y="467.3">0.4</text>
<text class="t8" text-anchor="end" transform="rotate(0.03 311.05 491.1)" x="311.05" y="491.1">0.2</text>
<text class="t8" text-anchor="end" transform="rotate(0.03 311.05 514.9)" x="311.05" y="514.9">0.0</text>
<text class="t8" text-anchor="middle" transform="rotate(0.03 314.55 521.1)" x="314.55" y="521.1">0</text>
<text class="t8" text-anchor="middle" transform="rotate(0.03 347.45 521.1)" x="347.45" y="521.1">200</text>
<text class="t8" text-anchor="middle" transform="rotate(0.03 380.35 521.1)" x="380.35" y="521.1">400</text>
<text class="t8" text-anchor="middle" transform="rotate(0.03 413.25 521.1)" x="413.25" y="521.1">600</text>
<text class="t8" text-anchor="middle" transform="rotate(0.03 446.15 521.1)" x="446.15" y="521.1">800</text>
<text class="t8" text-anchor="middle" transform="rotate(0.03 479.05 521.1)" x="479.05" y="521.1"><tspan letter-spacing="-0.9">1</tspan>000</text>
<text class="t8" text-anchor="middle" transform="rotate(0.03 511.95 521.1)" x="511.95" y="521.1"><tspan letter-spacing="-0.9">1</tspan>200</text>
<text class="t88" style="font-size:8.6px" text-anchor="middle" transform="translate(290,453.1) rotate(-89.97)">Disease-Free Survival</text>
<text class="t85" text-anchor="middle" transform="rotate(0.03 412 536.1)" x="412" y="536.1">Days</text>
<text class="t6" transform="rotate(0.03 317.5 503.75)" x="317.5" y="503.75"><tspan font-style="italic">P</tspan> = .748 (Log-rank)</text>
<g transform="translate(0,0)">
<path class="da" d="M314.6,393 V416.25 H322 V419 H325 V421.25 H327.5 V423.5 H332.6 V426.5 H345.1 V429.6 H350 V432.8 H355.5 V436.25 H364.8 V446.25 H382.5 V449.5 H383.5 V452.8 H428.75"/>
<path class="so" d="M314.25,419.75 H320.75 V424.4 H332.6 V430 H345.75 V436 H351.25 V442.25 H364.4 V455.5 H453.3 V469.1 H478.75"/>
<circle cx="315.1" cy="419.75" r="1.5"/>
<circle cx="323.9" cy="424.4" r="1.5"/>
<circle cx="325.75" cy="424.4" r="1.5"/>
<circle cx="338.25" cy="430" r="1.5"/>
<circle cx="343.25" cy="430" r="1.5"/>
<circle cx="370.9" cy="455.5" r="1.5"/>
<circle cx="393.1" cy="455.5" r="1.5"/>
<circle cx="405.6" cy="455.5" r="1.5"/>
<circle cx="425.5" cy="455.5" r="1.5"/>
<circle cx="456.75" cy="469.1" r="1.5"/>
<circle cx="471.75" cy="469.1" r="1.5"/>
<circle cx="478.75" cy="469.1" r="1.5"/>
<circle cx="315.1" cy="416.25" r="1.5"/>
<circle cx="320.75" cy="416.25" r="1.5"/>
<circle cx="323.9" cy="419" r="1.5"/>
<circle cx="326.4" cy="421.25" r="1.5"/>
<circle cx="329.5" cy="423.5" r="1.5"/>
<circle cx="331.4" cy="423.5" r="1.5"/>
<circle cx="336.4" cy="426.5" r="1.5"/>
<circle cx="338.9" cy="426.5" r="1.5"/>
<circle cx="341.4" cy="426.5" r="1.5"/>
<circle cx="347.5" cy="429.6" r="1.5"/>
<circle cx="350" cy="429.6" r="1.5"/>
<circle cx="354.4" cy="432.8" r="1.5"/>
<circle cx="357.5" cy="436.25" r="1.5"/>
<circle cx="360" cy="436.25" r="1.5"/>
<circle cx="362.5" cy="436.25" r="1.5"/>
<circle cx="364.4" cy="436.25" r="1.5"/>
<circle cx="366.25" cy="446.25" r="1.5"/>
<circle cx="368.1" cy="446.25" r="1.5"/>
<circle cx="370.6" cy="446.25" r="1.5"/>
<circle cx="376.9" cy="446.25" r="1.5"/>
<circle cx="378.75" cy="446.25" r="1.5"/>
<circle cx="381.25" cy="446.25" r="1.5"/>
<circle cx="390.6" cy="452.8" r="1.5"/>
<circle cx="396.9" cy="452.8" r="1.5"/>
<circle cx="398.75" cy="452.8" r="1.5"/>
<circle cx="400.6" cy="452.8" r="1.5"/>
<circle cx="403.75" cy="452.8" r="1.5"/>
<circle cx="410" cy="452.8" r="1.5"/>
<circle cx="412.5" cy="452.8" r="1.5"/>
<circle cx="425" cy="452.8" r="1.5"/>
<circle cx="428.75" cy="452.8" r="1.5"/>
</g>
<text class="t6" text-anchor="middle" transform="rotate(0.03 409.5 442)" x="409.5" y="442">High K trans Group</text>
<text class="t6" text-anchor="middle" transform="rotate(0.03 409.4 448.75)" x="409.4" y="448.75">(K trans >0.009)</text>
<text class="t6" text-anchor="middle" transform="rotate(0.03 466 477.5)" x="466" y="477.5">Low K trans Group</text>
<text class="t6" text-anchor="middle" transform="rotate(0.03 466.25 484.5)" x="466.25" y="484.5">(K trans <tspan font-size="4.8">≤</tspan>0.009)</text>
<text class="t88" transform="rotate(0.03 266.75 548.7)" x="266.75" y="548.7"># at risk</text>
<text class="t85" transform="rotate(0.03 283.75 559)" x="283.75" y="559">Low</text>
<text class="t85" transform="rotate(0.03 283.75 569.4)" x="283.75" y="569.4">High</text>
<text class="t85" text-anchor="end" transform="rotate(0.03 319.95 559)" x="319.95" y="559">53</text>
<text class="t85" text-anchor="end" transform="rotate(0.03 352.85 559)" x="352.85" y="559">26</text>
<text class="t85" text-anchor="end" transform="rotate(0.03 385.75 559)" x="385.75" y="559">10</text>
<text class="t85" text-anchor="end" transform="rotate(0.03 418.65 559)" x="418.65" y="559">1</text>
<text class="t85" text-anchor="end" transform="rotate(0.03 449.05 559)" x="449.05" y="559">0</text>
<text class="t85" text-anchor="end" transform="rotate(0.03 481.95 559)" x="481.95" y="559">0</text>
<text class="t85" text-anchor="end" transform="rotate(0.03 319.95 569.4)" x="319.95" y="569.4">25</text>
<text class="t85" text-anchor="end" transform="rotate(0.03 352.85 569.4)" x="352.85" y="569.4">12</text>
<text class="t85" text-anchor="end" transform="rotate(0.03 385.75 569.4)" x="385.75" y="569.4">7</text>
<text class="t85" text-anchor="end" transform="rotate(0.03 418.65 569.4)" x="418.65" y="569.4">5</text>
<text class="t85" text-anchor="end" transform="rotate(0.03 449.05 569.4)" x="449.05" y="569.4">4</text>
<text class="t85" text-anchor="end" transform="rotate(0.03 481.95 569.4)" x="481.95" y="569.4">1</text>
</g>
</svg></body></html>
